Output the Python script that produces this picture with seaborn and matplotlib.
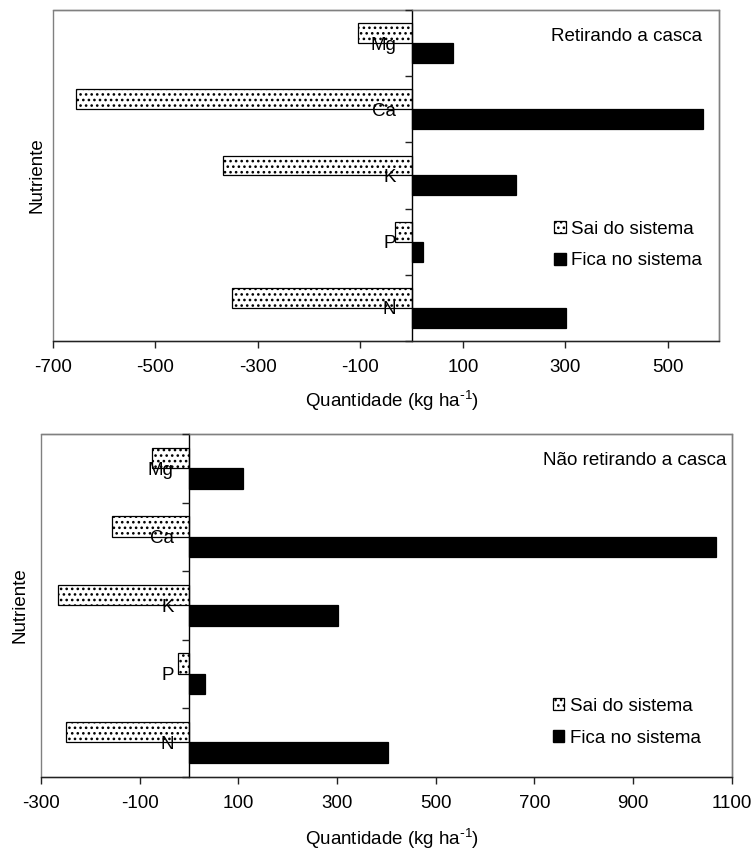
"""
Balanço de nutrientes: sai x fica no sistema, com e sem retirada da casca.
"""

import matplotlib

matplotlib.use("Agg")

import matplotlib.pyplot as plt
import pandas as pd
import seaborn as sns
from matplotlib.patches import Patch, Rectangle

# ---------------------------------------------------------------------------
# dados (kg ha-1)
# ---------------------------------------------------------------------------

nutrientes = ["Mg", "Ca", "K", "P", "N"]
series = ["Sai do sistema", "Fica no sistema"]

sai_retirando = [-105, -655, -368, -33, -351]
fica_retirando = [80, 568, 204, 22, 301]

sai_nao_retirando = [-75, -156, -265, -22, -250]
fica_nao_retirando = [110, 1068, 303, 32, 404]

ticks_retirando = [-700, -500, -300, -100, 100, 300, 500]
ticks_nao_retirando = [-300, -100, 100, 300, 500, 700, 900, 1100]

sns.set_theme(style="white")
plt.rcParams["font.family"] = ["Liberation Sans", "DejaVu Sans"]
plt.rcParams["mathtext.default"] = "regular"
plt.rcParams["axes.unicode_minus"] = False
plt.rcParams["hatch.linewidth"] = 1.1
plt.rcParams["hatch.color"] = "#222222"
for key in ("text.color", "axes.labelcolor", "xtick.color", "ytick.color",
            "xtick.labelcolor", "ytick.labelcolor"):
    plt.rcParams[key] = "black"

FS = 13.5
GRAY = "#808080"


def long_df(sai, fica):
    return pd.DataFrame({
        "nutriente": nutrientes * 2,
        "serie": [series[0]] * len(nutrientes) + [series[1]] * len(nutrientes),
        "valor": list(sai) + list(fica),
    })


def draw_panel(ax, sai, fica, xlim, xticks, titulo, leg_anchor, title_pos,
               ylab_x, xlab_pos):
    df = long_df(sai, fica)
    sns.barplot(
        data=df, x="valor", y="nutriente", hue="serie", hue_order=series,
        order=nutrientes, orient="h", width=0.6,
        palette={series[0]: "white", series[1]: "black"},
        edgecolor="black", linewidth=0.9, legend=False, ax=ax,
    )
    for bar in ax.containers[0]:
        bar.set_hatch("...")

    ax.set_axisbelow(False)
    ax.set_xlim(*xlim)
    ax.set_ylim(len(nutrientes) - 0.5, -0.5)
    ax.set_xticks(xticks)
    ax.set_xticklabels([str(t) for t in xticks], fontsize=FS, color="black")
    ax.tick_params(axis="x", direction="out", length=5, width=1,
                   color="#222222", pad=8, bottom=True)

    # eixo das categorias cruzando em zero
    ax.spines["left"].set_position(("data", 0))
    ax.spines["left"].set_color("black")
    ax.spines["left"].set_linewidth(1)
    ax.set_yticks([i - 0.5 for i in range(len(nutrientes) + 1)])
    ax.set_yticklabels([])
    ax.set_yticks(range(len(nutrientes)), minor=True)
    ax.set_yticklabels(nutrientes, minor=True, fontsize=FS, color="black")
    ax.tick_params(axis="y", which="major", direction="out", length=5,
                   width=1, color="#222222", left=True)
    ax.tick_params(axis="y", which="minor", length=0, pad=11, left=True)

    for side in ("top", "right"):
        ax.spines[side].set_color(GRAY)
        ax.spines[side].set_linewidth(1)
    ax.spines["bottom"].set_color("#222222")
    ax.spines["bottom"].set_linewidth(1)
    ax.add_patch(Rectangle((0, 0), 1, 1, transform=ax.transAxes, fill=False,
                           edgecolor=GRAY, linewidth=1, clip_on=False,
                           zorder=0.5))

    ax.set_ylabel("Nutriente", fontsize=FS, color="black")
    ax.yaxis.label.set_va("baseline")
    ax.yaxis.set_label_coords(ylab_x, 0.5)
    ax.set_xlabel(r"Quantidade (kg ha$^{\text{-}1}$)", fontsize=FS,
                  color="black")
    ax.xaxis.label.set_va("baseline")
    ax.xaxis.set_label_coords(*xlab_pos)

    ax.text(title_pos[0], title_pos[1], titulo, transform=ax.transAxes,
            ha="right", va="center", fontsize=FS, color="black")

    handles = [
        Patch(facecolor="white", edgecolor="black", hatch="...",
              linewidth=0.9, label=series[0]),
        Patch(facecolor="black", edgecolor="black", label=series[1]),
    ]
    leg = ax.legend(handles=handles, loc="upper left",
                    bbox_to_anchor=leg_anchor, frameon=False, fontsize=FS,
                    handlelength=0.62, handleheight=0.62, handletextpad=0.3,
                    labelspacing=0.79, borderpad=0, borderaxespad=0)
    for txt in leg.get_texts():
        txt.set_color("black")


fig = plt.figure(figsize=(7.54, 8.52), dpi=100)
ax1 = fig.add_axes([0.0699, 0.5998, 0.884, 0.3885])
ax2 = fig.add_axes([0.0542, 0.0884, 0.9162, 0.4022])

draw_panel(ax1, sai_retirando, fica_retirando, (-700, 600), ticks_retirando,
           "Retirando a casca", (0.752, 0.3635), (0.975, 0.919),
           -0.0165, (0.5098, -0.1994))
draw_panel(ax2, sai_nao_retirando, fica_nao_retirando, (-300, 1100),
           ticks_nao_retirando, "Não retirando a casca", (0.741, 0.2297),
           (0.992, 0.924), -0.0243, (0.5078, -0.199))

fig.savefig("out.png", dpi=100, facecolor="white")
